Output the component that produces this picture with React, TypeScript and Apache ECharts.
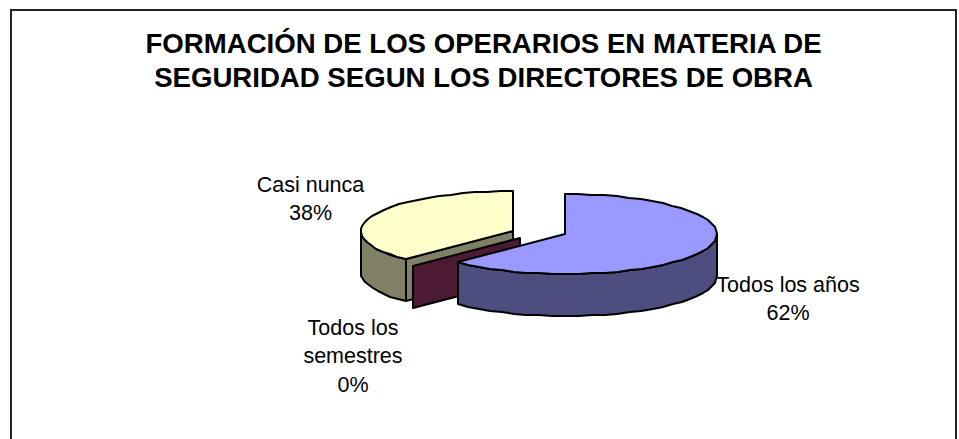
import React, { useEffect, useRef } from "react";
import * as echarts from "echarts";

const titleLines = [
  "FORMACIÓN DE LOS OPERARIOS EN MATERIA DE",
  "SEGURIDAD SEGUN LOS DIRECTORES DE OBRA",
];
const categories = ["Todos los años", "Todos los\nsemestres", "Casi nunca"];
const shares = [62.4, 0, 37.6];
const topColors = ["#9999FF", "#993366", "#FFFFCC"];
const sideColors = ["#4D4D80", "#4D1A33", "#808066"];

// Layout of the exploded projected pie
const sliceCentres = [
  [565, 234],
  [520, 238],
  [513, 231],
];
const labelAnchors = [
  [788, 299],
  [353, 356],
  [310.5, 199],
];
const RX = 152;
const RY = 40;
const DEPTH = 42;
const STROKE = "#000000";
const LINE_W = 2;

const total = shares.reduce((a, b) => a + b, 0);

function rim(cx: number, cy: number, deg: number, dy = 0): number[] {
  const t = (deg * Math.PI) / 180;
  return [Math.round(cx + RX * Math.sin(t)), Math.round(cy - RY * Math.cos(t) + dy)];
}

function arc(cx: number, cy: number, from: number, to: number, dy = 0): number[][] {
  const pts: number[][] = [];
  const steps = Math.max(1, Math.ceil(Math.abs(to - from) / 5));
  for (let i = 0; i <= steps; i++) {
    pts.push(rim(cx, cy, from + ((to - from) * i) / steps, dy));
  }
  return pts;
}

function renderSlice(params: any, api: any) {
  const i = params.dataIndex;
  const value = api.value(0);
  const before = shares.slice(0, i).reduce((a, b) => a + b, 0);
  const start = (before / total) * 360;
  const end = start + (value / total) * 360;
  const [cx, cy] = sliceCentres[i];
  const layer = (shares.length - i) * 10;
  const children: any[] = [];
  const poly = (points: number[][], fill: string, z: number) => ({
    type: "polygon",
    z2: layer + z,
    shape: { points },
    style: { fill, stroke: STROKE, lineWidth: LINE_W, lineJoin: "round" },
  });

  // Outer wall: the front half of the rim only
  const wallFrom = Math.max(start, 90);
  const wallTo = Math.min(end, 270);
  if (wallTo > wallFrom) {
    children.push(
      poly(
        [...arc(cx, cy, wallFrom, wallTo), ...arc(cx, cy, wallTo, wallFrom, DEPTH)],
        sideColors[i],
        1
      )
    );
  }
  // Cut face at the start edge, when it faces the viewer
  if (Math.sin((start * Math.PI) / 180) < -0.01) {
    const tip = rim(cx, cy, start);
    children.push(
      poly(
        [[cx, cy], tip, [tip[0], tip[1] + DEPTH], [cx, cy + DEPTH]],
        sideColors[i],
        2
      )
    );
  }
  // Top face
  if (value > 0) {
    children.push(poly([[cx, cy], ...arc(cx, cy, start, end)], topColors[i], 3));
  }
  // Label
  const [lx, ly] = labelAnchors[i];
  children.push({
    type: "text",
    z2: 100,
    style: {
      x: lx,
      y: ly,
      text: `${categories[i]}\n${Math.round((value / total) * 100)}%`,
      fill: "#000000",
      font: '21.5px "Liberation Sans", Arial, sans-serif',
      lineHeight: 28.5,
      textAlign: "center",
      textVerticalAlign: "middle",
    },
  });
  return { type: "group", children };
}

export default function App() {
  const ref = useRef<HTMLDivElement>(null);
  useEffect(() => {
    document.body.style.margin = "0";
    const chart = echarts.init(ref.current!, undefined, { renderer: "svg" });
    chart.setOption({
      animation: false,
      backgroundColor: "#ffffff",
      title: {
        text: titleLines.join("\n"),
        left: 478.5,
        top: 21,
        textAlign: "center",
        textStyle: {
          fontFamily: '"Liberation Sans", Arial, sans-serif',
          fontWeight: "bold",
          fontSize: 27.6,
          lineHeight: 34,
          color: "#000000",
        },
      },
      graphic: [
        {
          type: "rect",
          shape: { x: 11, y: 10, width: 945, height: 600 },
          style: { fill: "none", stroke: "#222222", lineWidth: 2 },
          silent: true,
        },
      ],
      series: [
        {
          type: "custom",
          coordinateSystem: "none",
          silent: true,
          clip: false,
          data: shares.map((v) => [v]),
          renderItem: renderSlice,
        },
      ],
    });
    return () => chart.dispose();
  }, []);
  return <div ref={ref} style={{ width: 959, height: 439 }} />;
}
